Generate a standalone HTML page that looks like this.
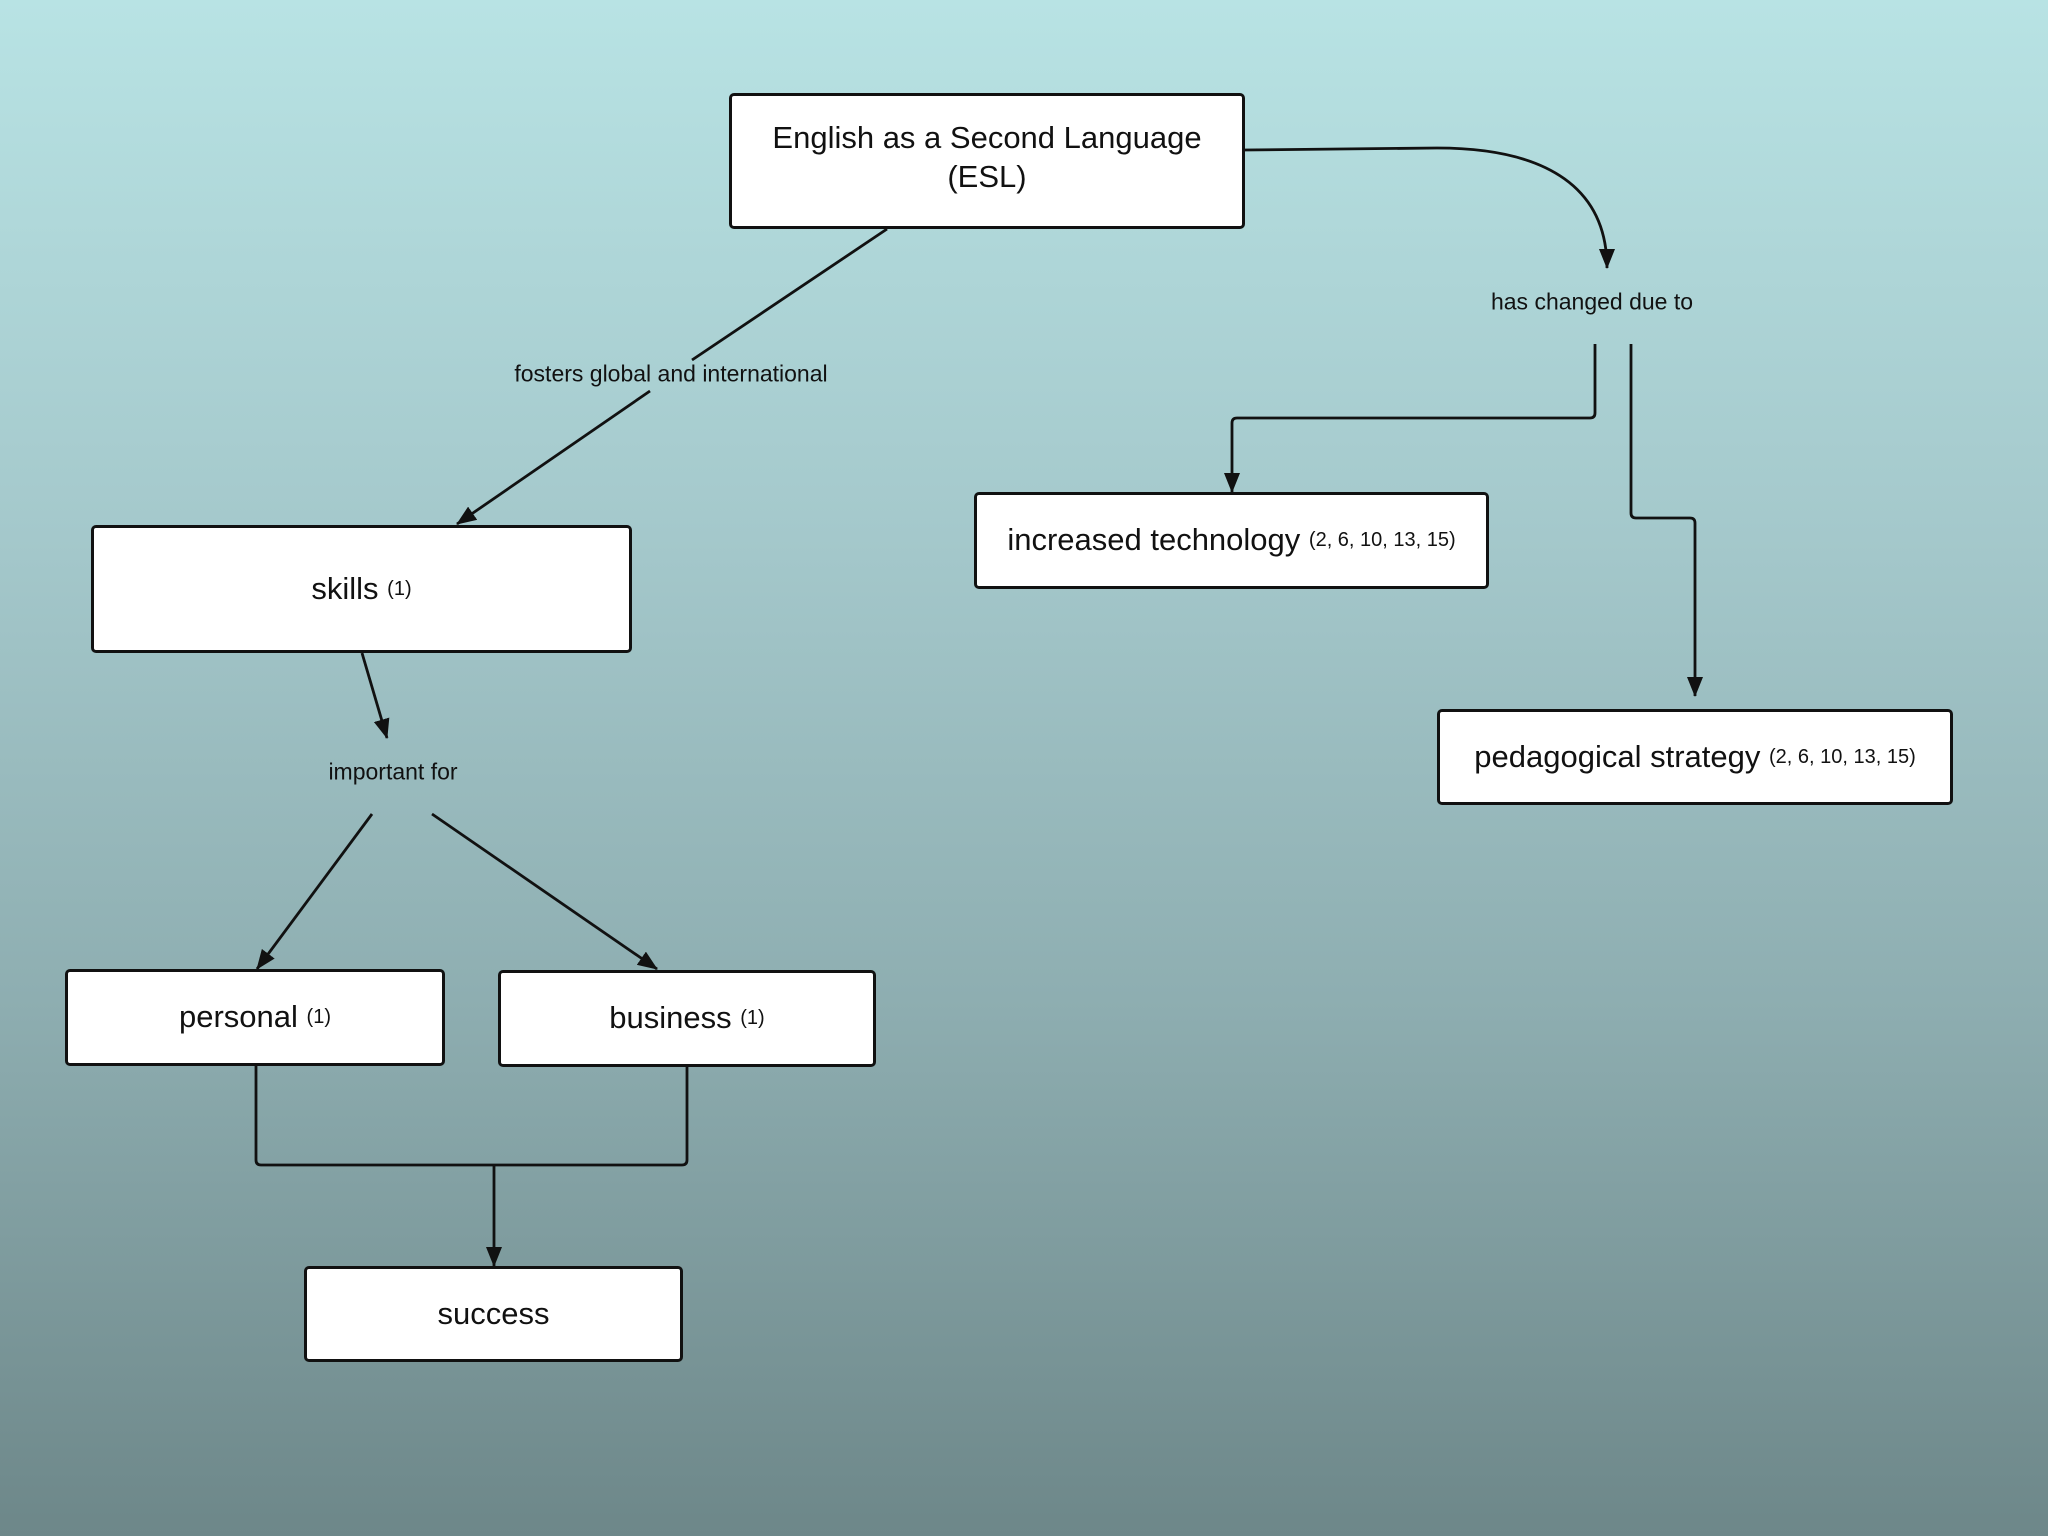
<!DOCTYPE html>
<html><head><style>
html,body{margin:0;padding:0}
body{width:2048px;height:1536px;position:relative;overflow:hidden;background:linear-gradient(#b8e3e4 0%,#a4c8cb 35%,#8eaeb1 65%,#6d8789 100%);font-family:"Liberation Sans",sans-serif}
.b{position:absolute;box-sizing:border-box;background:#fff;border:3px solid #111;border-radius:5px;display:flex;align-items:center;justify-content:center;text-align:center;font-size:31px;color:#111;line-height:1.25}
.b small{font-size:20px}
.l{position:absolute;font-size:23px;color:#111;white-space:nowrap;transform:translate(-50%,-50%)}
svg{position:absolute;left:0;top:0}
</style></head><body>
<svg width="2048" height="1536">
<defs><marker id="a" markerWidth="20" markerHeight="16" refX="19" refY="8" orient="auto" markerUnits="userSpaceOnUse" viewBox="0 0 20 16"><path d="M0,0 L20,8 L0,16 z" fill="#111"/></marker></defs>
<g stroke="#111" stroke-width="2.8" fill="none">
<path d="M887,229 L692,360"/>
<path d="M650,391 L457,524" marker-end="url(#a)"/>
<path d="M1245,150 L1437,148 C1550,148 1607,190 1607,268" marker-end="url(#a)"/>
<path d="M1595,344 L1595,413 Q1595,418 1590,418 L1237,418 Q1232,418 1232,423 L1232,492" marker-end="url(#a)"/>
<path d="M1631,344 L1631,513 Q1631,518 1636,518 L1690,518 Q1695,518 1695,523 L1695,696" marker-end="url(#a)"/>
<path d="M362,653 L387,738" marker-end="url(#a)"/>
<path d="M372,814 L257,969" marker-end="url(#a)"/>
<path d="M432,814 L657,969" marker-end="url(#a)"/>
<path d="M256,1066 L256,1160 Q256,1165 261,1165 L682,1165 Q687,1165 687,1160 L687,1067"/>
<path d="M494,1165 L494,1266" marker-end="url(#a)"/>
</g></svg>
<div class="b" style="left:729px;top:93px;width:516px;height:136px;padding-bottom:6px">English as a Second Language<br>(ESL)</div>
<div class="b" style="left:91px;top:525px;width:541px;height:128px">skills&nbsp;<small>(1)</small></div>
<div class="b" style="left:974px;top:492px;width:515px;height:97px">increased technology&nbsp;<small>(2, 6, 10, 13, 15)</small></div>
<div class="b" style="left:1437px;top:709px;width:516px;height:96px">pedagogical strategy&nbsp;<small>(2, 6, 10, 13, 15)</small></div>
<div class="b" style="left:65px;top:969px;width:380px;height:97px">personal&nbsp;<small>(1)</small></div>
<div class="b" style="left:498px;top:970px;width:378px;height:97px">business&nbsp;<small>(1)</small></div>
<div class="b" style="left:304px;top:1266px;width:379px;height:96px">success</div>
<div class="l" style="left:671px;top:374px">fosters global and international</div>
<div class="l" style="left:1592px;top:302px">has changed due to</div>
<div class="l" style="left:393px;top:772px">important for</div>
</body></html>
